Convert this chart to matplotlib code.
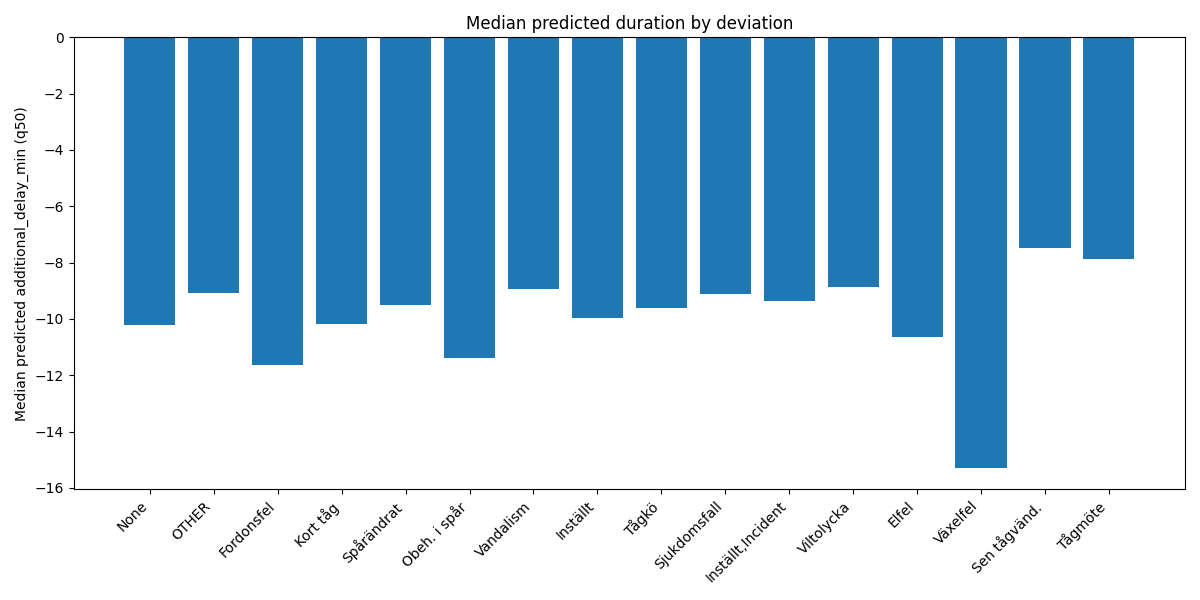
import matplotlib
matplotlib.use("Agg")
import matplotlib.pyplot as plt

categories = ["None", "OTHER", "Fordonsfel", "Kort tåg", "Spårändrat", "Obeh. i spår",
              "Vandalism", "Inställt", "Tågkö", "Sjukdomsfall", "Inställt,Incident",
              "Viltolycka", "Elfel", "Växelfel", "Sen tågvänd.", "Tågmöte"]
values = [-10.22, -9.08, -11.64, -10.18, -9.51, -11.39, -8.94, -9.97, -9.61, -9.12,
          -9.37, -8.87, -10.64, -15.29, -7.49, -7.88]

fig, ax = plt.subplots(figsize=(12, 6), dpi=100)
ax.bar(categories, values, color="#1f77b4")
ax.set_title("Median predicted duration by deviation")
ax.set_ylabel("Median predicted additional_delay_min (q50)")
plt.setp(ax.get_xticklabels(), rotation=45, ha="right")
fig.tight_layout()
fig.savefig("out.png")
